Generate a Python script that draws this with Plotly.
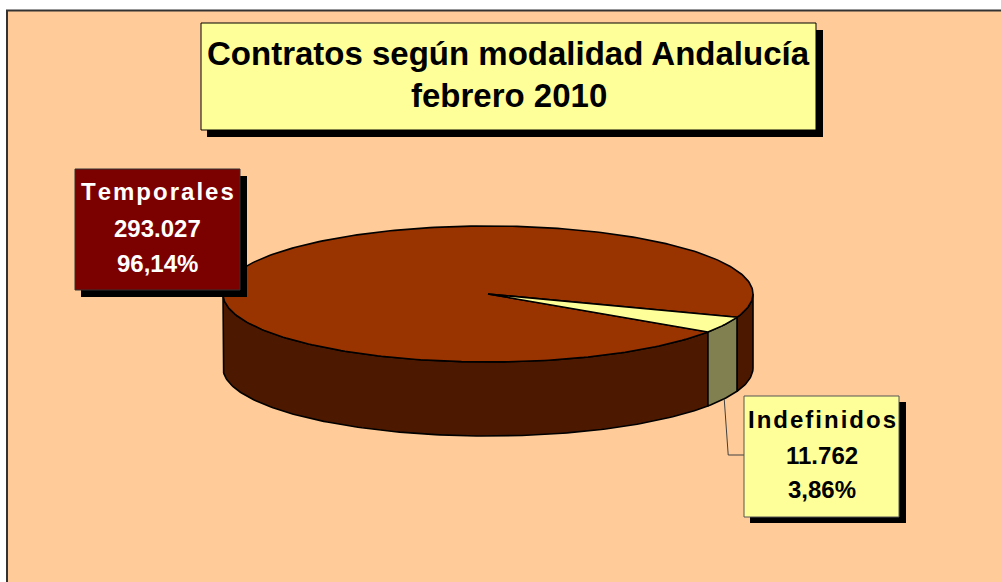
import numpy as np
import plotly.graph_objects as go

# ---- data ----
categories = ["Temporales", "Indefinidos"]
values = [293027, 11762]
title_lines = ["Contratos según modalidad Andalucía", "febrero 2010"]

top_colors = ["#993300", "#FFFF99"]
side_colors = ["#4C1900", "#808050"]

# ---- geometry of the 3-D pie (pixel space of the page) ----
W, H = 1001, 582
cx, cy, rx, ry, depth = 488, 294, 265, 68, 74
first_angle = 123.9  # degrees clockwise from 12 o'clock where first slice starts

total = sum(values)
fracs = [v / total for v in values]


def fmt_int(v):
    return f"{v:,}".replace(",", ".")


def fmt_pct(f):
    return f"{f*100:.2f}".replace(".", ",") + "%"


def spaced(s):
    return "\u200a".join(s)


def arc(t0, t1, dy=0.0, n=None):
    if n is None:
        n = max(4, int(abs(t1 - t0) / 1.0) + 2)
    t = np.radians(np.linspace(t0, t1, n))
    return cx + rx * np.cos(t), cy + dy + ry * np.sin(t)


# slice spans in screen angle t (clockwise from 3 o'clock)
spans = []
start = first_angle - 90.0
for f in fracs:
    end = start + f * 360.0
    spans.append((start, end))
    start = end

fig = go.Figure()

# side faces (front half: t in [0,180] mod 360)
for i, (a, b) in enumerate(spans):
    for off in (-360.0, 0.0, 360.0):
        lo = max(a, off + 0.0)
        hi = min(b, off + 180.0)
        if hi > lo:
            xt, yt = arc(lo, hi)
            xb, yb = arc(hi, lo, dy=depth)
            xs = np.concatenate([xt, xb, xt[:1]])
            ys = np.concatenate([yt, yb, yt[:1]])
            fig.add_trace(go.Scatter(x=xs, y=ys, mode="lines", fill="toself",
                                     fillcolor=side_colors[i],
                                     line=dict(color="black", width=1.6),
                                     hoverinfo="skip", showlegend=False))

# top wedges
for i, (a, b) in enumerate(spans):
    xa, ya = arc(a, b)
    xs = np.concatenate([[cx], xa, [cx]])
    ys = np.concatenate([[cy], ya, [cy]])
    fig.add_trace(go.Scatter(x=xs, y=ys, mode="lines", fill="toself",
                             fillcolor=top_colors[i],
                             line=dict(color="black", width=1.6),
                             hoverinfo="skip", showlegend=False))

# leader line for the small slice (anchored at middle of its bottom rim)
a, b = spans[1]
tm = np.radians((a + b) / 2)
ax_ = cx + rx * np.cos(tm)
ay_ = cy + depth + ry * np.sin(tm)
fig.add_trace(go.Scatter(x=[ax_, ax_ + 4, 744], y=[ay_, 455, 455], mode="lines",
                         line=dict(color="#404040", width=1),
                         hoverinfo="skip", showlegend=False))

shapes = [
    # chart background
    dict(type="rect", x0=7, y0=10.5, x1=1010, y1=600, layer="below",
         fillcolor="#FFCC99", line=dict(color="#333333", width=2)),
    # title box + shadow
    dict(type="rect", x0=207, y0=30, x1=823, y1=137, fillcolor="black",
         line=dict(width=0)),
    dict(type="rect", x0=201, y0=23, x1=816, y1=130, fillcolor="#FFFF99",
         line=dict(color="black", width=1)),
    # Temporales label
    dict(type="rect", x0=81, y0=176, x1=247, y1=297, fillcolor="black",
         line=dict(width=0)),
    dict(type="rect", x0=75, y0=169, x1=240, y1=290, fillcolor="#7B0000",
         line=dict(color="#333333", width=1)),
    # Indefinidos label
    dict(type="rect", x0=750, y0=402, x1=906, y1=523, fillcolor="black",
         line=dict(width=0)),
    dict(type="rect", x0=744, y0=396, x1=899, y1=517, fillcolor="#FFFF99",
         line=dict(color="#555555", width=1)),
]

FONT = "Liberation Sans, Arial, sans-serif"
annotations = [
    dict(x=508.5, y=53, text=f"<b>{title_lines[0]}</b>", font=dict(size=33, color="black", family=FONT)),
    dict(x=508.5, y=95, text=f"<b>{title_lines[1]}</b>", font=dict(size=33, color="black", family=FONT)),
]
label_specs = [
    (0, 157.5, [191, 228, 263], "white"),
    (1, 821.5, [419, 455, 489], "black"),
]
for i, xc, ys, col in label_specs:
    texts = [spaced(categories[i]), fmt_int(values[i]), fmt_pct(fracs[i])]
    for t, yy in zip(texts, ys):
        annotations.append(dict(x=xc, y=yy, text=f"<b>{t}</b>",
                                font=dict(size=24, color=col, family=FONT)))
for an in annotations:
    an.update(xref="x", yref="y", showarrow=False, xanchor="center", yanchor="middle")

fig.update_layout(
    width=W, height=H,
    margin=dict(l=0, r=0, t=0, b=0),
    paper_bgcolor="white", plot_bgcolor="white",
    xaxis=dict(range=[0, W], visible=False, fixedrange=True),
    yaxis=dict(range=[H, 0], visible=False, fixedrange=True),
    shapes=shapes, annotations=annotations, showlegend=False,
)

fig.write_html("out.html",
               config={"displayModeBar": False, "staticPlot": True},
               post_script="document.body.style.margin='0';document.body.style.overflow='hidden';")
